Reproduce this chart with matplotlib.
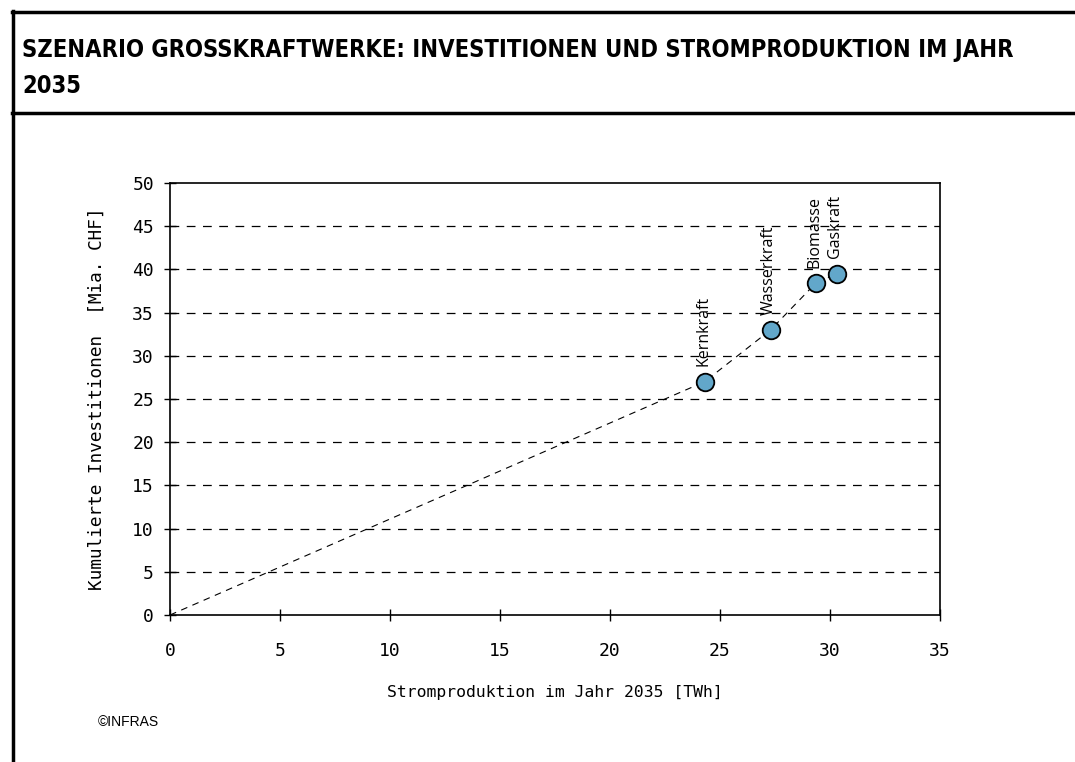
import matplotlib
matplotlib.use("Agg")
import matplotlib.pyplot as plt
from matplotlib.lines import Line2D

# Data
technologies = ["Kernkraft", "Wasserkraft", "Biomasse", "Gaskraft"]
production_twh = [24.3, 27.3, 29.35, 30.3]
investments_bn = [27.0, 33.0, 38.4, 39.5]
x_ticks = [0, 5, 10, 15, 20, 25, 30, 35]
y_ticks = [0, 5, 10, 15, 20, 25, 30, 35, 40, 45, 50]

W, H = 1075, 762
fig = plt.figure(figsize=(W / 100, H / 100), dpi=100)

def fx(px):
    return px / W

def fy(py):
    return 1 - py / H

# Frame lines
fig.add_artist(Line2D([fx(13), fx(13)], [fy(11), fy(762)], color="black", lw=2.5))
fig.add_artist(Line2D([fx(12), fx(1075)], [fy(12), fy(12)], color="black", lw=2.5))
fig.add_artist(Line2D([fx(12), fx(1075)], [fy(113), fy(113)], color="black", lw=2.5))

title_kw = dict(fontsize=17, fontweight="bold", family="DejaVu Sans",
                fontstretch="condensed", va="center", ha="left")
fig.text(fx(22), fy(50), "SZENARIO GROSSKRAFTWERKE: INVESTITIONEN UND STROMPRODUKTION IM JAHR",
         **title_kw)
fig.text(fx(22), fy(86), "2035", **title_kw)

ax = fig.add_axes([fx(170), fy(615), fx(940) - fx(170), fy(183) - fy(615)])
ax.set_xlim(0, 35)
ax.set_ylim(0, 50)
ax.set_xticks(x_ticks)
ax.set_yticks(y_ticks)
for s in ax.spines.values():
    s.set_linewidth(1.2)
ax.tick_params(direction="inout", length=9, width=1, labelsize=13, pad=7)
for lab in ax.get_xticklabels() + ax.get_yticklabels():
    lab.set_family("DejaVu Sans Mono")
ax.tick_params(axis="x", pad=15)
for yv in y_ticks[1:-1]:
    ax.axhline(yv, color="black", lw=0.9, ls=(0, (7, 6)), zorder=1)

xs = [0] + production_twh
ys = [0] + investments_bn
ax.plot(xs, ys, color="black", lw=0.8, ls=(0, (6, 5)), zorder=2)
ax.scatter(production_twh, investments_bn, s=160, color="#62a7ca",
           edgecolors="black", linewidths=1.3, zorder=3)
for name, x, y in zip(technologies, production_twh, investments_bn):
    ax.annotate(name, (x, y), xytext=(-1, 11), textcoords="offset points",
                rotation=90, ha="center", va="bottom", fontsize=11.5, family="Open Sans")

ax.set_xlabel("Stromproduktion im Jahr 2035 [TWh]", family="DejaVu Sans Mono",
              fontsize=11.8, labelpad=18)
ax.set_ylabel("Kumulierte Investitionen  [Mia. CHF]", family="DejaVu Sans Mono",
              fontsize=12.8, labelpad=19)

fig.text(fx(98), fy(722), "\u00a9INFRAS", family="Liberation Sans", fontsize=10,
         va="center", ha="left")

fig.savefig("out.png", dpi=100)
